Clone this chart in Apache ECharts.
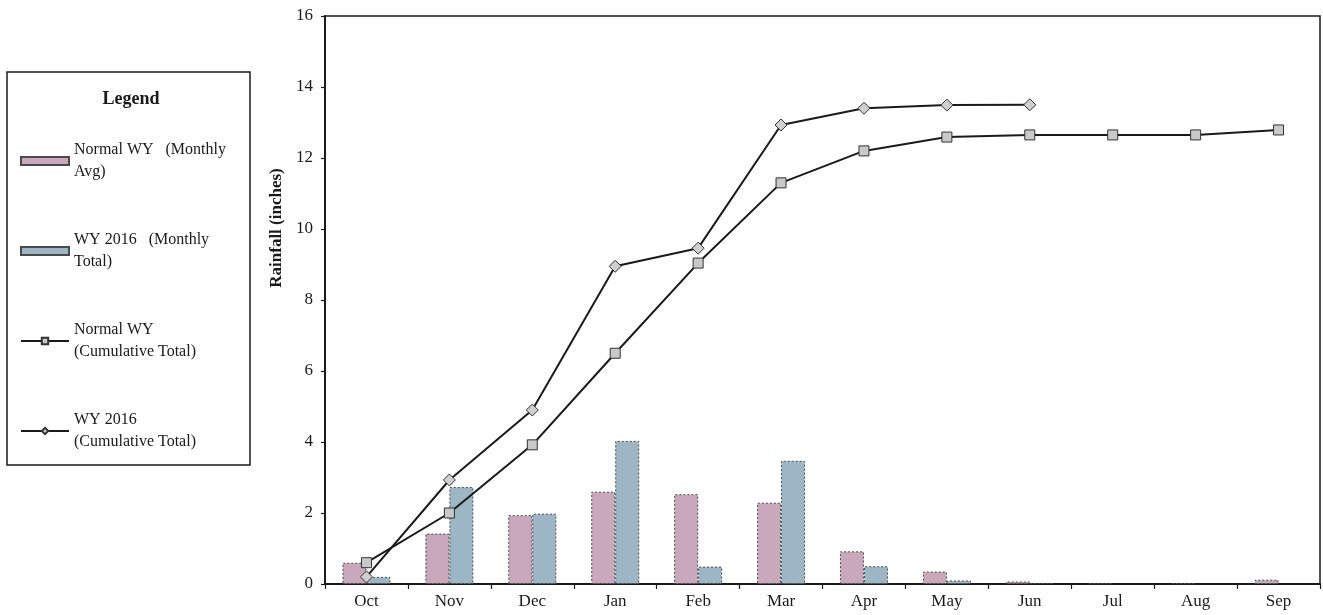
<!DOCTYPE html>
<html>
<head>
<meta charset="utf-8">
<title>Rainfall WY 2016</title>
<script src="https://cdn.jsdelivr.net/npm/echarts@6/dist/echarts.min.js"></script>
<style>
  html, body { margin: 0; padding: 0; background: #fff; }
  #chart { width: 1323px; height: 615px; }
</style>
</head>
<body>
<div id="chart"></div>
<script>
// Water-year months, October through September
const months = ['Oct', 'Nov', 'Dec', 'Jan', 'Feb', 'Mar', 'Apr', 'May', 'Jun', 'Jul', 'Aug', 'Sep'];

// Monthly rainfall (inches)
const normalMonthly = [0.6, 1.42, 1.94, 2.6, 2.53, 2.29, 0.92, 0.35, 0.07, 0.02, 0.02, 0.12];
const wy2016Monthly = [0.2, 2.73, 1.98, 4.03, 0.49, 3.47, 0.5, 0.1, 0.03, null, null, null];

// Cumulative rainfall (inches)
const normalCumulative = [0.6, 2.0, 3.92, 6.5, 9.04, 11.3, 12.2, 12.59, 12.65, 12.65, 12.65, 12.79];
const wy2016Cumulative = [0.2, 2.93, 4.9, 8.95, 9.46, 12.93, 13.4, 13.49, 13.5, null, null, null];

// Y axis scale
const yMin = 0, yMax = 16, yStep = 2;

const serif = '"Liberation Serif", "Times New Roman", serif';
const ink = '#1a1a1a';

const chart = echarts.init(document.getElementById('chart'), null, { renderer: 'canvas' });

chart.setOption({
  backgroundColor: '#ffffff',
  animation: false,
  textStyle: { fontFamily: serif, color: ink },
  grid: {
    left: 325, right: 3, top: 16, bottom: 31,
    show: true, borderColor: ink, borderWidth: 1.5, backgroundColor: 'transparent'
  },
  graphic: [
    {
      type: 'rect', x: 7, y: 72, z: 0,
      shape: { x: 0, y: 0, width: 243, height: 393 },
      style: { fill: '#fff', stroke: ink, lineWidth: 1.5 }
    },
    {
      type: 'text', x: 131, y: 99, z: 1,
      style: {
        text: 'Legend', align: 'center', verticalAlign: 'middle',
        font: 'bold 18px ' + serif, fill: ink
      }
    }
  ],
  legend: {
    orient: 'vertical',
    left: 20,
    top: 128,
    padding: 0,
    itemGap: 24,
    itemWidth: 48,
    itemHeight: 8,
    selectedMode: false,
    z: 5,
    textStyle: {
      fontFamily: serif, fontSize: 16, color: ink,
      lineHeight: 22, padding: [22, 0, 0, 0]
    },
    formatter: function (name) {
      const labels = {
        'Normal WY (Monthly Avg)': 'Normal WY   (Monthly\nAvg)',
        'WY 2016 (Monthly Total)': 'WY 2016   (Monthly\nTotal)',
        'Normal WY (Cumulative Total)': 'Normal WY\n(Cumulative Total)',
        'WY 2016 (Cumulative Total)': 'WY 2016\n(Cumulative Total)'
      };
      return labels[name];
    },
    data: [
      { name: 'Normal WY (Monthly Avg)', icon: 'rect' },
      { name: 'WY 2016 (Monthly Total)', icon: 'rect' },
      'Normal WY (Cumulative Total)',
      'WY 2016 (Cumulative Total)'
    ]
  },
  xAxis: {
    type: 'category',
    data: months,
    boundaryGap: true,
    axisLine: { show: true, lineStyle: { color: ink, width: 2 } },
    axisTick: { show: true, inside: false, length: 5, alignWithLabel: false, lineStyle: { color: ink, width: 1.2 } },
    axisLabel: { fontFamily: serif, fontSize: 17, color: ink, margin: 9 },
    splitLine: { show: false }
  },
  yAxis: {
    type: 'value',
    min: yMin, max: yMax, interval: yStep,
    name: 'Rainfall (inches)',
    nameLocation: 'middle',
    nameRotate: 90,
    nameGap: 40,
    nameTextStyle: {
      fontFamily: serif, fontSize: 17, fontWeight: 'bold', color: ink,
      padding: [0, 0, 0, 144]
    },
    axisLine: { show: true, lineStyle: { color: ink, width: 2 } },
    axisTick: { show: true, inside: false, length: 4, lineStyle: { color: ink, width: 1.2 } },
    axisLabel: { fontFamily: serif, fontSize: 17, color: ink, margin: 12 },
    splitLine: { show: false }
  },
  series: [
    {
      name: 'Normal WY (Monthly Avg)',
      type: 'bar',
      data: normalMonthly,
      barWidth: 24,
      barGap: '0%',
      itemStyle: { color: '#c8a8ba', borderColor: '#4a4a4a', borderWidth: 1, borderType: [2, 2] }
    },
    {
      name: 'WY 2016 (Monthly Total)',
      type: 'bar',
      data: wy2016Monthly,
      barWidth: 24,
      barGap: '0%',
      itemStyle: { color: '#9db6c6', borderColor: '#4a4a4a', borderWidth: 1, borderType: [2, 2] }
    },
    {
      name: 'Normal WY (Cumulative Total)',
      type: 'line',
      data: normalCumulative,
      symbol: 'rect',
      symbolSize: 10,
      showAllSymbol: true,
      lineStyle: { color: ink, width: 2 },
      itemStyle: { color: '#c9c9c9', borderColor: '#333', borderWidth: 1 },
      z: 3
    },
    {
      name: 'WY 2016 (Cumulative Total)',
      type: 'line',
      data: wy2016Cumulative,
      symbol: 'diamond',
      symbolSize: 12,
      showAllSymbol: true,
      connectNulls: false,
      lineStyle: { color: ink, width: 2 },
      itemStyle: { color: '#cfcfcf', borderColor: '#333', borderWidth: 1 },
      z: 3
    }
  ]
});
</script>
</body>
</html>
